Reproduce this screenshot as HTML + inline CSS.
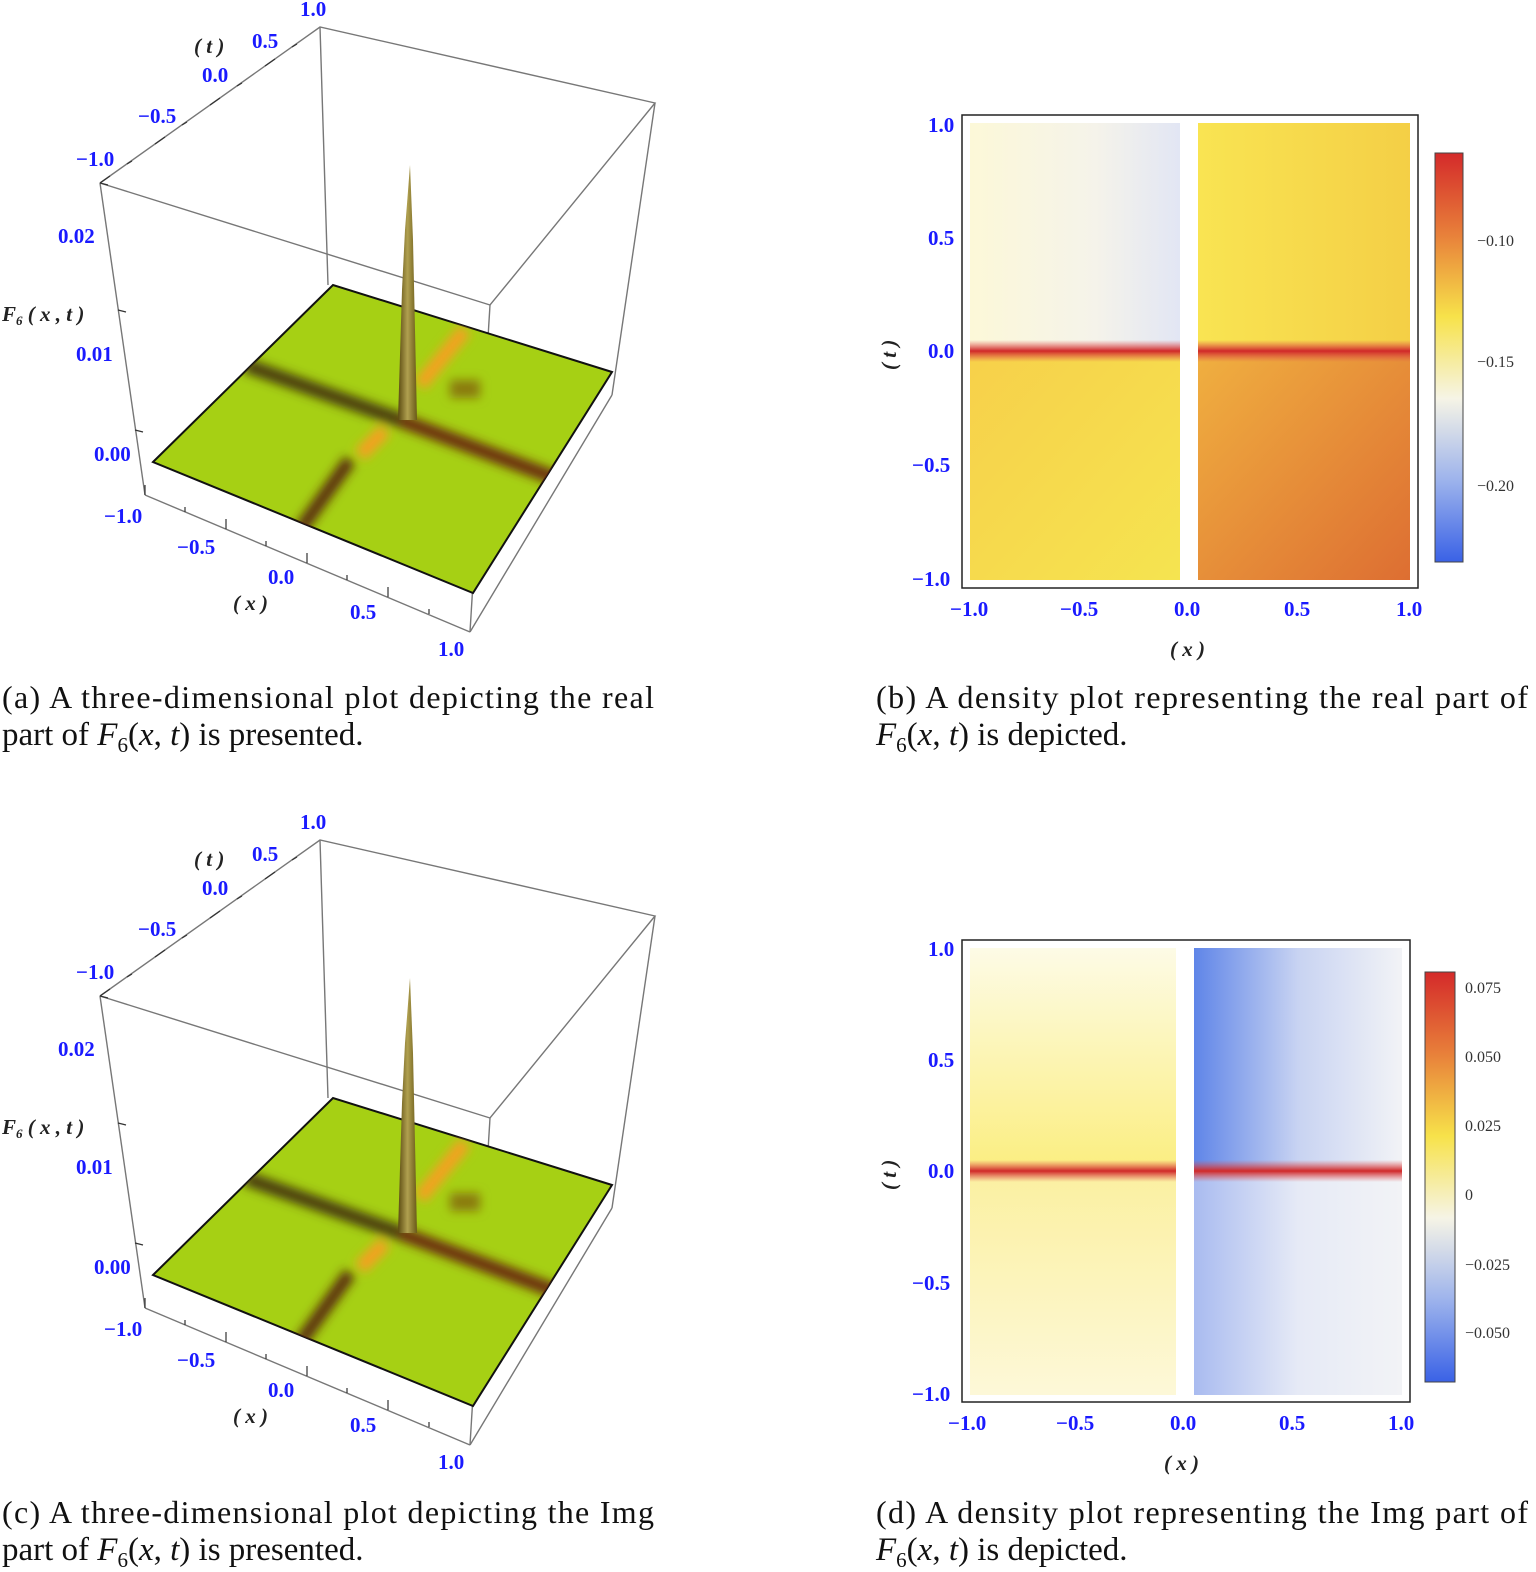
<!DOCTYPE html>
<html><head><meta charset="utf-8"><style>
html,body{margin:0;padding:0;background:#fff;}
svg{display:block;}
.t{font-family:"Liberation Serif",serif;font-weight:bold;fill:#1a1aff;font-size:21px;}
.k{font-family:"Liberation Serif",serif;font-weight:bold;fill:#222;font-size:21px;font-style:italic;}
.c{font-family:"Liberation Serif",serif;fill:#111;font-size:32px;}
.c2{font-family:"Liberation Serif",serif;fill:#111;font-size:33px;}
.cb{font-family:"Liberation Serif",serif;fill:#333;font-size:16px;}
</style></head><body>
<svg width="1536" height="1572" viewBox="0 0 1536 1572" xmlns="http://www.w3.org/2000/svg">
<defs>
<linearGradient id="cbar" x1="0" y1="0" x2="0" y2="1">
<stop offset="0" stop-color="#d42a2a"/><stop offset="0.2" stop-color="#e8803a"/><stop offset="0.4" stop-color="#f7e24a"/><stop offset="0.6" stop-color="#f6f4e6"/><stop offset="0.8" stop-color="#9db3ec"/><stop offset="1" stop-color="#3a62e6"/>
</linearGradient>
<linearGradient id="bTL" x1="0" y1="0" x2="1" y2="0"><stop offset="0" stop-color="#fcf8d8"/><stop offset="0.6" stop-color="#f5f3ea"/><stop offset="1" stop-color="#e2e6f4"/></linearGradient>
<linearGradient id="bBL" x1="0" y1="0" x2="1" y2="1"><stop offset="0" stop-color="#f7d04a"/><stop offset="1" stop-color="#f5e450"/></linearGradient>
<linearGradient id="bTR" x1="0" y1="0" x2="1" y2="0"><stop offset="0" stop-color="#f9e452"/><stop offset="1" stop-color="#f4cf46"/></linearGradient>
<linearGradient id="bBR" x1="0" y1="0" x2="1" y2="1"><stop offset="0" stop-color="#f0b040"/><stop offset="1" stop-color="#dd6e32"/></linearGradient>
<linearGradient id="dTL" x1="0" y1="0" x2="0" y2="1"><stop offset="0" stop-color="#fdfbe6"/><stop offset="1" stop-color="#fbee80"/></linearGradient>
<linearGradient id="dBL" x1="0" y1="0" x2="0" y2="1"><stop offset="0" stop-color="#fbf0a0"/><stop offset="1" stop-color="#fdf8d8"/></linearGradient>
<linearGradient id="dTR" x1="0" y1="0" x2="1" y2="0"><stop offset="0" stop-color="#5f85e8"/><stop offset="0.5" stop-color="#c8d3f2"/><stop offset="1" stop-color="#f2f3f6"/></linearGradient>
<linearGradient id="dBR" x1="0" y1="0" x2="1" y2="0"><stop offset="0" stop-color="#a9bbf0"/><stop offset="0.5" stop-color="#e6eaf6"/><stop offset="1" stop-color="#f2f3f6"/></linearGradient>
<linearGradient id="red" x1="0" y1="0" x2="0" y2="1"><stop offset="0" stop-color="#e05050" stop-opacity="0"/><stop offset="0.5" stop-color="#d02828"/><stop offset="1" stop-color="#e05050" stop-opacity="0"/></linearGradient>
<linearGradient id="spk" x1="0" y1="0" x2="1" y2="0"><stop offset="0" stop-color="#5a4a10"/><stop offset="0.5" stop-color="#b0a050"/><stop offset="1" stop-color="#6a5a18"/></linearGradient>
<filter id="bl"><feGaussianBlur stdDeviation="5"/></filter>
<clipPath id="pl"><polygon points="153,462 333,285 612,372 473,593"/></clipPath>
<g id="p3">
 <g stroke="#777" stroke-width="1.4" fill="none">
  <polyline points="100,183 320,27 655,103 490,305 100,183"/>
  <line x1="320" y1="27" x2="328" y2="285"/>
  <line x1="100" y1="183" x2="145" y2="495"/>
  <line x1="490" y1="305" x2="470" y2="632"/>
  <line x1="655" y1="103" x2="612" y2="395"/>
  <line x1="145" y1="495" x2="470" y2="632"/>
  <line x1="470" y1="632" x2="612" y2="395"/>
 </g>
 <polygon points="153,462 333,285 612,372 473,593" fill="#a6d014" stroke="#111" stroke-width="2"/>
 <g clip-path="url(#pl)" filter="url(#bl)">
  <line x1="245" y1="365" x2="400" y2="420" stroke="#4a3a10" stroke-width="14"/>
  <line x1="400" y1="420" x2="560" y2="480" stroke="#6a2a08" stroke-width="14"/>
  <line x1="385" y1="430" x2="360" y2="455" stroke="#f5a020" stroke-width="14"/>
  <line x1="350" y1="460" x2="300" y2="530" stroke="#5a2a08" stroke-width="13"/>
  <line x1="420" y1="385" x2="465" y2="330" stroke="#f5a020" stroke-width="14"/>
  <rect x="450" y="380" width="30" height="18" fill="#8a7a10"/>
 </g>
 <polygon points="398,420 402,290 405,230 410,165 413,240 417,420" fill="url(#spk)"/>
 <g stroke="#333" stroke-width="1.2">
  <line x1="100" y1="183" x2="110" y2="176"/><line x1="155" y1="144" x2="165" y2="137"/><line x1="210" y1="105" x2="220" y2="98"/><line x1="265" y1="66" x2="275" y2="59"/>
  <line x1="127" y1="164" x2="132" y2="161"/><line x1="182" y1="125" x2="187" y2="122"/><line x1="237" y1="86" x2="242" y2="83"/><line x1="292" y1="47" x2="297" y2="44"/>
  <line x1="145" y1="495" x2="145" y2="485"/><line x1="226" y1="529" x2="226" y2="519"/><line x1="307" y1="563" x2="307" y2="553"/><line x1="388" y1="597" x2="388" y2="587"/>
  <line x1="185" y1="512" x2="185" y2="507"/><line x1="266" y1="546" x2="266" y2="541"/><line x1="347" y1="580" x2="347" y2="575"/><line x1="429" y1="614" x2="429" y2="609"/>
  <line x1="100" y1="183" x2="108" y2="185"/><line x1="118" y1="310" x2="126" y2="312"/><line x1="135" y1="430" x2="143" y2="432"/>
 </g>
 <text class="t" x="300" y="16">1.0</text>
 <text class="t" x="252" y="48">0.5</text>
 <text class="t" x="202" y="82">0.0</text>
 <text class="t" x="138" y="123">−0.5</text>
 <text class="t" x="76" y="166">−1.0</text>
 <text class="k" x="194" y="53">( t )</text>
 <text class="t" x="58" y="243">0.02</text>
 <text class="t" x="76" y="361">0.01</text>
 <text class="t" x="94" y="461">0.00</text>
 <text class="k" x="2" y="321">F<tspan font-size="13" dy="4">6</tspan><tspan dy="-4"> ( x , t )</tspan></text>
 <text class="t" x="104" y="523">−1.0</text>
 <text class="t" x="177" y="554">−0.5</text>
 <text class="t" x="268" y="584">0.0</text>
 <text class="k" x="233" y="610">( x )</text>
 <text class="t" x="350" y="619">0.5</text>
 <text class="t" x="438" y="656">1.0</text>
</g>
</defs>

<use href="#p3"/>
<use href="#p3" transform="translate(0,813)"/>

<!-- panel b -->
<rect x="970" y="123" width="210" height="228" fill="url(#bTL)"/>
<rect x="970" y="351" width="210" height="229" fill="url(#bBL)"/>
<rect x="1198" y="123" width="212" height="228" fill="url(#bTR)"/>
<rect x="1198" y="351" width="212" height="229" fill="url(#bBR)"/>
<rect x="970" y="340" width="440" height="22" fill="url(#red)"/>
<rect x="1180" y="123" width="18" height="457" fill="#fff"/>
<rect x="962" y="115" width="456" height="473" fill="none" stroke="#222" stroke-width="1.5"/>
<g class="t"><text x="928" y="132">1.0</text><text x="928" y="245">0.5</text><text x="928" y="358">0.0</text><text x="912" y="472">−0.5</text><text x="912" y="586">−1.0</text>
<text x="950" y="616">−1.0</text><text x="1060" y="616">−0.5</text><text x="1174" y="616">0.0</text><text x="1284" y="616">0.5</text><text x="1396" y="616">1.0</text></g>
<text class="k" x="1170" y="656">( x )</text>
<text class="k" transform="translate(896,370) rotate(-90)">( t )</text>
<rect x="1435" y="153" width="28" height="409" fill="url(#cbar)" stroke="#444"/>
<g class="cb"><text x="1477" y="246">−0.10</text><text x="1477" y="367">−0.15</text><text x="1477" y="491">−0.20</text></g>

<!-- panel d -->
<rect x="970" y="948" width="206" height="222" fill="url(#dTL)"/>
<rect x="970" y="1170" width="206" height="225" fill="url(#dBL)"/>
<rect x="1194" y="948" width="208" height="222" fill="url(#dTR)"/>
<rect x="1194" y="1170" width="208" height="225" fill="url(#dBR)"/>
<rect x="970" y="1160" width="432" height="22" fill="url(#red)"/>
<rect x="1176" y="948" width="18" height="447" fill="#fff"/>
<rect x="962" y="940" width="448" height="462" fill="none" stroke="#222" stroke-width="1.5"/>
<g class="t"><text x="928" y="956">1.0</text><text x="928" y="1067">0.5</text><text x="928" y="1178">0.0</text><text x="912" y="1290">−0.5</text><text x="912" y="1401">−1.0</text>
<text x="948" y="1430">−1.0</text><text x="1056" y="1430">−0.5</text><text x="1170" y="1430">0.0</text><text x="1279" y="1430">0.5</text><text x="1388" y="1430">1.0</text></g>
<text class="k" x="1164" y="1470">( x )</text>
<text class="k" transform="translate(896,1190) rotate(-90)">( t )</text>
<rect x="1425" y="972" width="30" height="410" fill="url(#cbar)" stroke="#444"/>
<g class="cb"><text x="1465" y="993">0.075</text><text x="1465" y="1062">0.050</text><text x="1465" y="1131">0.025</text><text x="1465" y="1200">0</text><text x="1465" y="1270">−0.025</text><text x="1465" y="1338">−0.050</text></g>

<!-- captions -->
<text class="c" x="2" y="708" textLength="652">(a) A three-dimensional plot depicting the real</text>
<text class="c2" x="2" y="745">part of <tspan font-style="italic">F</tspan><tspan font-size="21" dy="7">6</tspan><tspan dy="-7">(</tspan><tspan font-style="italic">x</tspan>, <tspan font-style="italic">t</tspan>) is presented.</text>
<text class="c" x="876" y="708" textLength="652">(b) A density plot representing the real part of</text>
<text class="c2" x="876" y="745"><tspan font-style="italic">F</tspan><tspan font-size="21" dy="7">6</tspan><tspan dy="-7">(</tspan><tspan font-style="italic">x</tspan>, <tspan font-style="italic">t</tspan>) is depicted.</text>
<text class="c" x="2" y="1523" textLength="652">(c) A three-dimensional plot depicting the Img</text>
<text class="c2" x="2" y="1560">part of <tspan font-style="italic">F</tspan><tspan font-size="21" dy="7">6</tspan><tspan dy="-7">(</tspan><tspan font-style="italic">x</tspan>, <tspan font-style="italic">t</tspan>) is presented.</text>
<text class="c" x="876" y="1523" textLength="652">(d) A density plot representing the Img part of</text>
<text class="c2" x="876" y="1560"><tspan font-style="italic">F</tspan><tspan font-size="21" dy="7">6</tspan><tspan dy="-7">(</tspan><tspan font-style="italic">x</tspan>, <tspan font-style="italic">t</tspan>) is depicted.</text>
</svg>
</body></html>
